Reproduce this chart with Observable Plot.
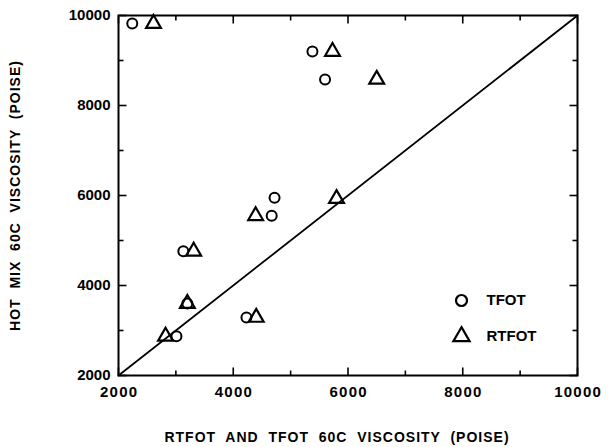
<!DOCTYPE html>
<html>
<head>
<meta charset="utf-8">
<script src="https://cdn.jsdelivr.net/npm/d3@7"></script>
<script src="https://cdn.jsdelivr.net/npm/@observablehq/plot@0.6"></script>
<style>
  html, body { margin: 0; padding: 0; background: #fff; }
</style>
</head>
<body>
<div id="c"></div>
<script>
const seriesNames = ["TFOT", "RTFOT"];
const tfotX  = [2240, 5380, 5600, 4720, 4670, 3130, 3200, 4230, 3010];
const tfotY  = [9820, 9200, 8580, 5950, 5550, 4760, 3600, 3290, 2870];
const rtfotX = [2610, 5730, 6500, 5800, 4390, 3310, 3200, 4400, 2820];
const rtfotY = [9820, 9200, 8580, 5930, 5550, 4760, 3600, 3290, 2870];
const majorTicks = [2000, 4000, 6000, 8000, 10000];
const minorTicks = [3000, 5000, 7000, 9000];
const domainEnds = [2000, 10000];
const xTitle = "RTFOT  AND  TFOT  60C  VISCOSITY  (POISE)";
const yTitle = "HOT  MIX  60C  VISCOSITY  (POISE)";

const tfot = tfotX.map((x, i) => ({x, y: tfotY[i]}));
const rtfot = rtfotX.map((x, i) => ({x, y: rtfotY[i]}));
const [lo, hi] = domainEnds;
const frameCorners = [[lo, lo], [hi, lo], [hi, hi], [lo, hi], [lo, lo]];

const W = 608, H = 447, mL = 118, mR = 31, mT = 15, mB = 72;
const FONT = "Liberation Sans, Arial, sans-serif";

const tickSym = (dx, dy) => ({draw(ctx) { ctx.moveTo(0, 0); ctx.lineTo(dx, dy); }});
const tickOpts = {stroke: "#000", strokeWidth: 1.6};

const chart = Plot.plot({
  width: W,
  height: H,
  marginLeft: mL,
  marginRight: mR,
  marginTop: mT,
  marginBottom: mB,
  style: {fontFamily: FONT, fontWeight: "bold", color: "#000"},
  x: {domain: domainEnds, axis: null},
  y: {domain: domainEnds, axis: null},
  marks: [
    Plot.frame({stroke: "#000", strokeWidth: 2}),
    Plot.dot(majorTicks, {x: d => d, frameAnchor: "bottom", symbol: tickSym(0, -8), ...tickOpts}),
    Plot.dot(minorTicks, {x: d => d, frameAnchor: "bottom", symbol: tickSym(0, -5), ...tickOpts}),
    Plot.dot(majorTicks, {x: d => d, frameAnchor: "top", symbol: tickSym(0, 8), ...tickOpts}),
    Plot.dot(minorTicks, {x: d => d, frameAnchor: "top", symbol: tickSym(0, 5), ...tickOpts}),
    Plot.dot(majorTicks, {y: d => d, frameAnchor: "left", symbol: tickSym(8, 0), ...tickOpts}),
    Plot.dot(minorTicks, {y: d => d, frameAnchor: "left", symbol: tickSym(5, 0), ...tickOpts}),
    Plot.dot(majorTicks, {y: d => d, frameAnchor: "right", symbol: tickSym(-8, 0), ...tickOpts}),
    Plot.dot(minorTicks, {y: d => d, frameAnchor: "right", symbol: tickSym(-5, 0), ...tickOpts}),
    // tick labels
    Plot.text(majorTicks, {x: d => d, frameAnchor: "bottom", dy: 17, text: d => String(d).split("").join("\u200A"),
      fontSize: 15, fontWeight: "bold", fill: "#000", textAnchor: "middle", lineAnchor: "middle"}),
    Plot.text(majorTicks, {y: d => d, frameAnchor: "left", dx: -8, text: d => String(d),
      fontSize: 15, fontWeight: "bold", fill: "#000", textAnchor: "end", lineAnchor: "middle"}),
    // axis titles
    Plot.text([xTitle], {frameAnchor: "bottom", dx: -11, dy: 62, text: d => d, textAnchor: "middle", fontSize: 14, fontWeight: "bold", fill: "#000", lineAnchor: "middle"}),
    Plot.text([yTitle], {frameAnchor: "left", dx: -103, text: d => d, rotate: -90, textAnchor: "middle", fontSize: 14, fontWeight: "bold", fill: "#000", lineAnchor: "middle"}),
    // line of equality
    Plot.line(domainEnds, {x: d => d, y: d => d, stroke: "#000", strokeWidth: 1.8}),
    // data
    Plot.dot(tfot, {x: "x", y: "y", symbol: "circle", r: 5, stroke: "#000", strokeWidth: 2, fill: "none"}),
    Plot.dot(rtfot, {x: "x", y: "y", symbol: "triangle", r: 5.5, stroke: "#000", strokeWidth: 2.2, fill: "none"}),
    // legend
    Plot.dot(seriesNames.slice(0, 1), {frameAnchor: "bottom-right", dx: -116, dy: -75, symbol: "circle", r: 5.5, stroke: "#000", strokeWidth: 2.2, fill: "none"}),
    Plot.dot(seriesNames.slice(1, 2), {frameAnchor: "bottom-right", dx: -116, dy: -39, symbol: "triangle", r: 6, stroke: "#000", strokeWidth: 2.2, fill: "none"}),
    Plot.text(seriesNames.slice(0, 1), {frameAnchor: "bottom-right", dx: -91, dy: -75, text: d => d, textAnchor: "start", lineAnchor: "middle", fontSize: 15, fontWeight: "bold", fill: "#000"}),
    Plot.text(seriesNames.slice(1, 2), {frameAnchor: "bottom-right", dx: -91, dy: -39, text: d => d, textAnchor: "start", lineAnchor: "middle", fontSize: 15, fontWeight: "bold", fill: "#000"})
  ]
});
document.getElementById("c").appendChild(chart);

// letter spacing for the spaced-out axis titles
chart.querySelectorAll('g[aria-label="text"] text').forEach(t => {
  const s = t.textContent;
  if (s === xTitle || s === yTitle) t.setAttribute("letter-spacing", "1");
});

// fallback: if the frame did not come out visibly, redraw frame & ticks with Plot's scales
const fr = chart.querySelector('[aria-label="frame"]');
let ok = false;
try { const b = fr && fr.getBBox(); ok = b && b.width > 0; } catch (e) { ok = false; }
if (!ok) {
  const sx = chart.scale("x"), sy = chart.scale("y");
  const X = v => sx.apply(v), Y = v => sy.apply(v);
  const g = d3.select(chart).append("g").attr("fill", "none").attr("stroke", "#000");
  g.append("path").attr("stroke-width", 2)
    .attr("d", "M" + frameCorners.map(([a, b]) => `${X(a)},${Y(b)}`).join("L"));
  const tickPath = [];
  majorTicks.forEach(v => { tickPath.push(`M${X(v)},${Y(lo)}v-8`, `M${X(v)},${Y(hi)}v8`, `M${X(lo)},${Y(v)}h8`, `M${X(hi)},${Y(v)}h-8`); });
  minorTicks.forEach(v => { tickPath.push(`M${X(v)},${Y(lo)}v-5`, `M${X(v)},${Y(hi)}v5`, `M${X(lo)},${Y(v)}h5`, `M${X(hi)},${Y(v)}h-5`); });
  g.append("path").attr("stroke-width", 1.6).attr("d", tickPath.join(""));
}
</script>
</body>
</html>
